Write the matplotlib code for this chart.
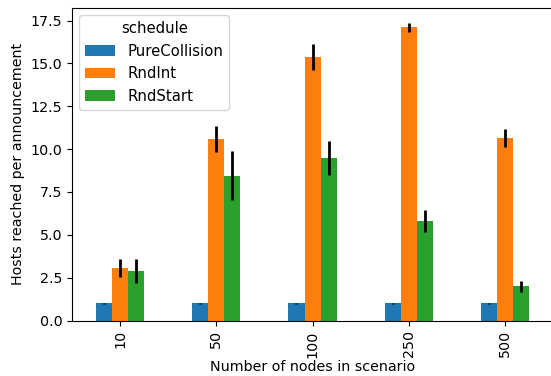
import pandas as pd
import matplotlib
matplotlib.use('Agg')
import matplotlib.pyplot as plt

nodes = [10, 50, 100, 250, 500]
pure_collision = [1.02, 1.02, 1.02, 1.02, 1.02]
rnd_int = [3.06, 10.59, 15.37, 17.12, 10.65]
rnd_start = [2.89, 8.46, 9.48, 5.80, 2.01]

pure_collision_err = [0.03, 0.03, 0.03, 0.03, 0.03]
rnd_int_err = [0.5, 0.73, 0.76, 0.26, 0.54]
rnd_start_err = [0.72, 1.43, 0.97, 0.64, 0.32]

plt.rcParams['font.size'] = 10.3

df = pd.DataFrame({'PureCollision': pure_collision, 'RndInt': rnd_int, 'RndStart': rnd_start},
                  index=pd.Index(nodes, name='nodes'))
err = pd.DataFrame({'PureCollision': pure_collision_err, 'RndInt': rnd_int_err, 'RndStart': rnd_start_err},
                   index=df.index)

fig = plt.figure(figsize=(5.51, 3.76), dpi=100)
# original was cropped a little on the right, so the axes run past the edge
ax = fig.add_axes([0.1307, 0.1476, 0.873, 0.831])
df.plot.bar(ax=ax, yerr=err, error_kw=dict(elinewidth=2, ecolor='black'))
ax.set_ylim(0, 18.23)
ax.spines['right'].set_visible(False)
ax.legend(title='schedule', loc='upper left', fontsize=10.7, title_fontsize=10.7)
ax.set_xlabel('Number of nodes in scenario', labelpad=2)
ax.set_ylabel('Hosts reached per announcement')
fig.savefig('out.png')
